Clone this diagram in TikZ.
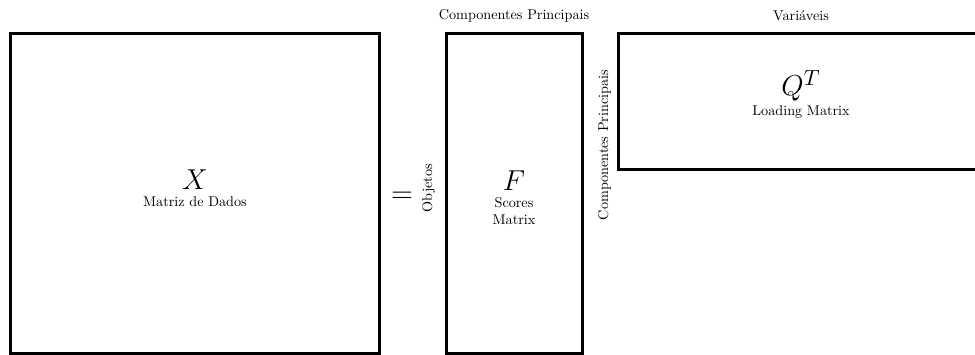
\documentclass[tikz,border=0pt]{standalone}
\usepackage{amsmath}
\usepackage{fontspec}
\usepackage{tikz}
\usetikzlibrary{positioning}

\newfontfamily\lblfont{lmroman10-regular}[Extension=.otf]
\newcommand{\lblsize}{\lblfont\fontsize{7.1}{8.4}\selectfont}
\newcommand{\symsize}{\fontsize{15.5}{18}\selectfont}

\begin{document}
\begin{tikzpicture}[
    matbox/.style={rectangle, draw, line width=1.5pt, outer sep=0pt, minimum height=160pt},
    dimlabel/.style={font=\lblsize},
    content/.style={align=center, font=\lblsize},
]
\useasboundingbox (-5.5pt,16.5pt) rectangle (482pt,-160.5pt);

% Data matrix
\node[matbox, minimum width=184pt, anchor=north west] (X) at (0,0) {};
\node[content, yshift=2.5pt] (Xlabel) at (X.center) {{\symsize $X$}\\Matriz de Dados};

% Equals sign
\node[right=2.5pt of X, font=\Large, yshift=-2pt] (eq) {$=$};

% Scores matrix
\node[matbox, minimum width=68pt, right=33.5pt of X] (F) {};
\node[content, yshift=-2.5pt] (Flabel) at (F.center) {{\symsize $F$}\\Scores\\Matrix};
\node[dimlabel, above=2pt of F] (Fcols) {Componentes Principais};
\node[dimlabel, rotate=90, anchor=south] (Frows) at ([xshift=-2pt, yshift=2.5pt]F.west) {Objetos};

% Loading matrix
\node[matbox, minimum width=183pt, minimum height=68pt, right=18pt of F.north east, anchor=north west] (Q) {};
\node[content, yshift=3.3pt] (Qlabel) at (Q.center) {{\symsize $Q^T$}\\[1.5pt]Loading Matrix};
\node[dimlabel, above=2.5pt of Q] (Qcols) {Variáveis};
\node[dimlabel, rotate=90, anchor=south] (Qrows) at ([yshift=-22pt]Q.west) {Componentes Principais};
\end{tikzpicture}
\end{document}
